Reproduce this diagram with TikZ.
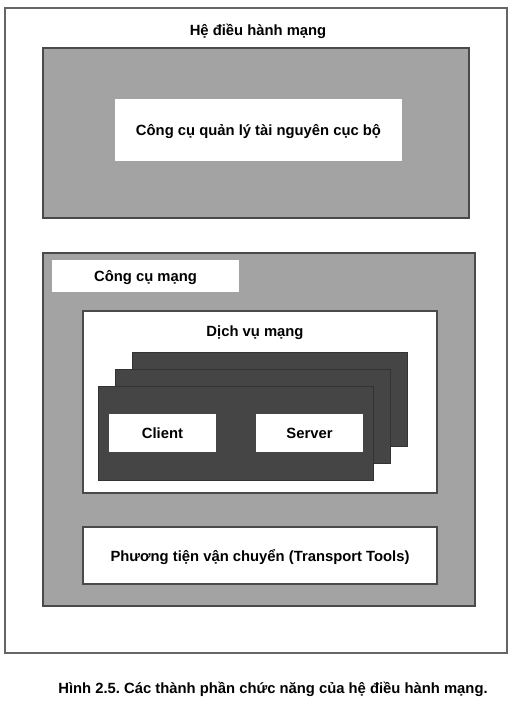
\documentclass[tikz,border=0pt]{standalone}
\usepackage{fontspec}
\setmainfont{Liberation Sans}
\usepackage{xcolor}
\usetikzlibrary{shapes,backgrounds,positioning}
\frenchspacing

\definecolor{panelgray}{HTML}{A3A3A3}
\definecolor{cardgray}{HTML}{454545}
\definecolor{edgegray}{HTML}{4A4A4A}

\begin{document}
\begin{tikzpicture}[x=1pt, y=-1pt]
            \tikzstyle{label} = [font=\fontsize{14.8}{16}\selectfont\bfseries, inner sep=0pt, text depth=0pt]
            \tikzstyle{box} = [rectangle, inner sep=0pt, outer sep=0pt]
            \tikzstyle{panel} = [box, draw=edgegray, line width=1.2pt, fill=panelgray]
            \tikzstyle{slot} = [box, fill=white]
            \tikzstyle{card} = [box, draw=black!80, line width=0.8pt, fill=cardgray, minimum width=275, minimum height=94]
            \useasboundingbox[fill=white] (0, 0) rectangle (529, 712);
            \node[box, draw=black!60, line width=1.2pt, minimum width=502, minimum height=645] (os) at (256, 330.5) {};
            \node[label] (ostitle) at (258, 30) {Hệ điều hành mạng};
            \node[panel, minimum width=426, minimum height=170] (local) at (256, 133) {};
            \node[slot, minimum width=287, minimum height=62, label] (localtool) at (258.5, 130) {Công cụ quản lý tài nguyên cục bộ};
            \node[panel, minimum width=432, minimum height=353] (net) at (259, 429.5) {};
            \node[slot, minimum width=187, minimum height=32, label] (nettool) at (145.5, 276) {Công cụ mạng};
            \node[slot, draw=edgegray, line width=1.2pt, minimum width=354, minimum height=182] (service) at (260, 402) {};
            \node[label] (servicetitle) at (255, 331) {Dịch vụ mạng};
            \foreach \n/\x/\y in {back/270/399, middle/253/416, front/236/433}
                \node[card] (\n) at (\x, \y) {};
            \node[slot, minimum width=107, minimum height=38, label] (client) at (162.5, 433) {Client};
            \node[slot, minimum width=107, minimum height=38, label] (server) at (309.5, 433) {Server};
            \node[slot, draw=edgegray, line width=1.2pt, minimum width=354, minimum height=57, label] (transport) at (260, 555.5) {Phương tiện vận chuyển (Transport Tools)};
            \node[label] (caption) at (273, 688) {Hình 2.5. Các thành phần chức năng của hệ điều hành mạng.};
        \end{tikzpicture}
\end{document}
